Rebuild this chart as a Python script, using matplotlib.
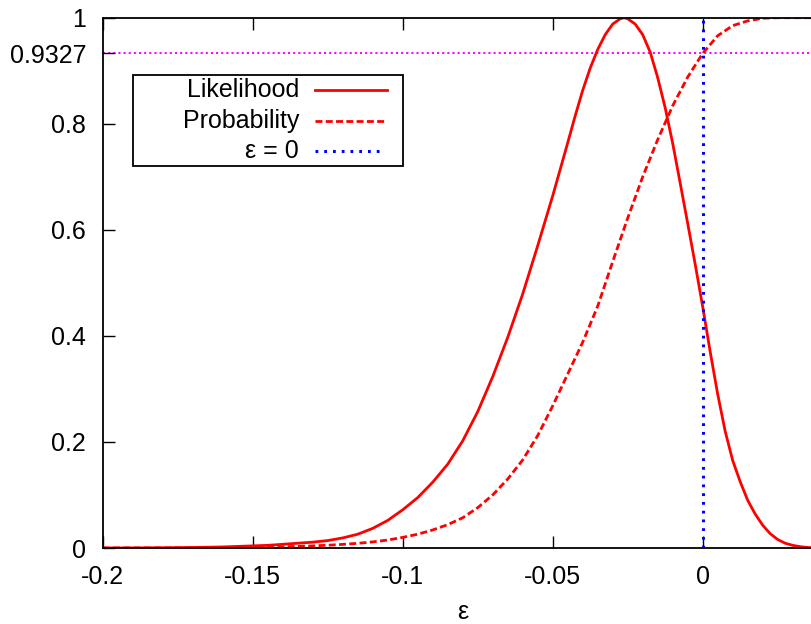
import matplotlib
matplotlib.use("Agg")
import matplotlib.pyplot as plt
from matplotlib.lines import Line2D
from matplotlib.patches import Rectangle

plt.rcParams['font.family'] = ['Liberation Sans', 'DejaVu Sans']
plt.rcParams['axes.unicode_minus'] = False
plt.rcParams['lines.scale_dashes'] = False

# Likelihood curve
like_x = [-0.2, -0.19, -0.18, -0.17, -0.16, -0.15, -0.145, -0.14, -0.135,
          -0.13, -0.125, -0.12, -0.115, -0.11, -0.105, -0.1, -0.095, -0.09,
          -0.085, -0.08, -0.075, -0.07, -0.065, -0.06, -0.055, -0.05, -0.045,
          -0.0425, -0.04, -0.0375, -0.035, -0.0325, -0.03, -0.0275, -0.0262,
          -0.025, -0.0225, -0.02, -0.0175, -0.015, -0.0125, -0.01, -0.0075,
          -0.005, -0.0025, 0.0, 0.0025, 0.005, 0.0075, 0.01, 0.0125, 0.015,
          0.0175, 0.02, 0.0225, 0.025, 0.0275, 0.03, 0.0325, 0.035, 0.0375,
          0.04]
like_y = [0.0, 0.0001, 0.0004, 0.001, 0.002, 0.004, 0.005, 0.007, 0.009,
          0.011, 0.014, 0.019, 0.026, 0.037, 0.052, 0.072, 0.095, 0.124,
          0.158, 0.202, 0.257, 0.323, 0.397, 0.479, 0.57, 0.664, 0.764,
          0.815, 0.863, 0.905, 0.94, 0.968, 0.988, 0.998, 1.0,
          0.998, 0.988, 0.968, 0.935, 0.887, 0.83, 0.763, 0.688,
          0.612, 0.535, 0.455, 0.37, 0.29, 0.22, 0.165, 0.125, 0.09,
          0.064, 0.043, 0.027, 0.016, 0.009, 0.005, 0.0025, 0.001, 0.0003,
          0.0]

# Probability curve
prob_x = [-0.2, -0.19, -0.18, -0.17, -0.16, -0.15, -0.145, -0.14, -0.135,
          -0.13, -0.125, -0.12, -0.115, -0.11, -0.105, -0.1, -0.095, -0.09,
          -0.085, -0.08, -0.075, -0.07, -0.065, -0.06, -0.055, -0.05, -0.045,
          -0.04, -0.035, -0.03, -0.025, -0.02, -0.015, -0.01, -0.005, 0.0,
          0.005, 0.01, 0.015, 0.02, 0.025, 0.03, 0.04]
prob_y = [0.0, 0.0001, 0.0002, 0.0004, 0.0007, 0.0013, 0.0017, 0.0023, 0.003,
          0.004, 0.0052, 0.0068, 0.0088, 0.0115, 0.015, 0.02, 0.026, 0.034,
          0.044, 0.057, 0.076, 0.1, 0.13, 0.166, 0.212, 0.268, 0.328,
          0.388, 0.456, 0.54, 0.622, 0.7, 0.77, 0.834, 0.888, 0.9327,
          0.966, 0.985, 0.994, 0.999, 1.0, 1.0, 1.0]

level = 0.9327
eps0 = 0.0

xticks = [-0.2, -0.15, -0.1, -0.05, 0]
xtick_labels = ['-0.2', '-0.15', '-0.1', '-0.05', '0']
yticks = [0, 0.2, 0.4, 0.6, 0.8, level, 1]
ytick_labels = ['0', '0.2', '0.4', '0.6', '0.8', '0.9327', '1']

FS = 18

fig = plt.figure(figsize=(8.12, 6.24), dpi=100)
ax = fig.add_axes([102.7 / 812, 76 / 624, 720 / 812, 530.3 / 624])

ax.axhline(level, color='#ff00ff', lw=1.4, dashes=(1.5, 2.2), zorder=1)
ax.plot(like_x, like_y, color='#ff0000', lw=2.0, zorder=2)
ax.plot(prob_x, prob_y, color='#ff0000', lw=2.0, dashes=(5, 2.4), zorder=2)
ax.axvline(eps0, color='#0000ff', lw=2.2, dashes=(2.0, 4.3), zorder=3)

ax.set_xlim(-0.2, 0.04)
ax.set_ylim(0, 1)
ax.set_xticks(xticks)
ax.set_xticklabels(xtick_labels)
ax.set_yticks(yticks)
ax.set_yticklabels(ytick_labels)
ax.tick_params(direction='in', length=8.5, width=1.0, labelsize=FS,
               top=True, right=True)
ax.tick_params(axis='y', pad=12)
ax.tick_params(axis='x', pad=12)
ax.set_xlabel('ε', fontsize=FS, labelpad=8)
for s in ax.spines.values():
    s.set_linewidth(1.3)

# key box, gnuplot style (text right-aligned, sample on the right)
def px(x, y):
    return (x - 102.7) / 720, (548 - y) / 530.3

x0, y0 = px(133, 166)
x1, y1 = px(403, 75)
ax.add_patch(Rectangle((x0, y0), x1 - x0, y1 - y0, transform=ax.transAxes,
                       facecolor='white', edgecolor='black', lw=1.3,
                       zorder=4, clip_on=False))
keys = [('Likelihood', dict(color='#ff0000', lw=2.0), 90, 387),
        ('Probability', dict(color='#ff0000', lw=2.0, dashes=(5, 2.4)), 121, 387),
        ('ε = 0', dict(color='#0000ff', lw=2.2, dashes=(2.0, 4.3)), 151, 382)]
for label, style, row, xend in keys:
    tx, ty = px(299, row)
    ax.text(tx, ty, label, transform=ax.transAxes, ha='right', va='center',
            fontsize=FS, zorder=5)
    lx0, ly = px(315, row)
    lx1, _ = px(xend, row)
    ax.add_line(Line2D([lx0, lx1], [ly, ly], transform=ax.transAxes,
                       zorder=5, clip_on=False, **style))

fig.savefig('out.png', dpi=100)
